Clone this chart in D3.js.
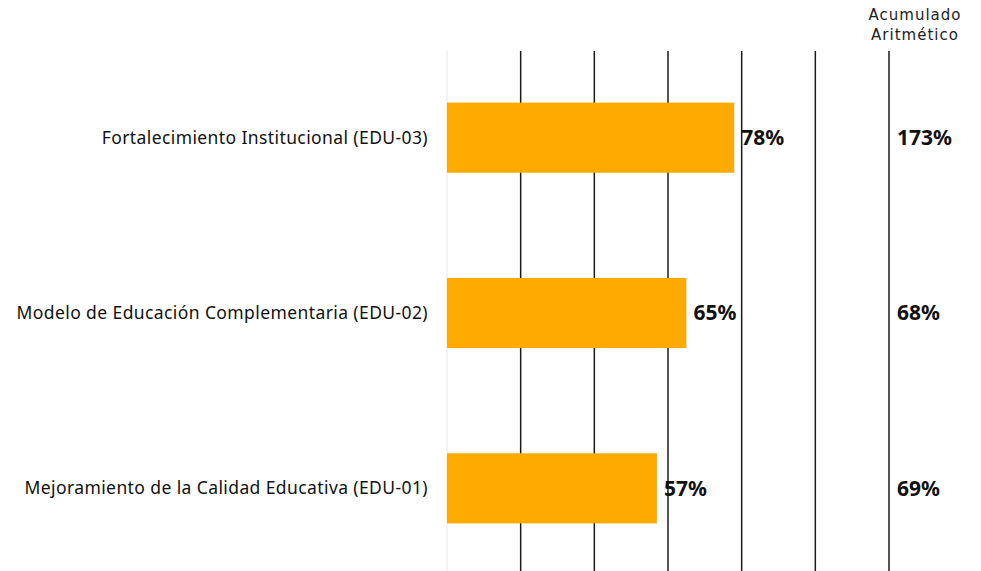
<!DOCTYPE html>
<html>
<head>
<meta charset="utf-8">
<script src="https://cdn.jsdelivr.net/npm/d3@7"></script>
<style>
  body { margin:0; background:#fff; }
  svg { display:block; }
</style>
</head>
<body>
<div id="chart"></div>
<script>
// data
const categories = [
  "Fortalecimiento Institucional (EDU-03)",
  "Modelo de Educación Complementaria (EDU-02)",
  "Mejoramiento de la Calidad Educativa (EDU-01)"
];
const avance     = [78, 65, 57];
const acumulado  = [173, 68, 69];
const gridTicks  = [20, 40, 60, 80, 100, 120];

const width = 981, height = 571;

const svg = d3.select("#chart").append("svg")
  .attr("width", width).attr("height", height);

const x = d3.scaleLinear().domain([0, 120]).range([447, 889]);
const y = d3.scaleBand().domain(categories).range([50, 576]).paddingInner(0.6).paddingOuter(0.3);

// faint zero line
svg.append("line")
  .attr("x1", x(0)).attr("x2", x(0))
  .attr("y1", 51).attr("y2", height)
  .attr("stroke", "#e6e6e6").attr("stroke-width", 1);

// gridlines
svg.append("g").selectAll("line")
  .data(gridTicks).enter().append("line")
  .attr("x1", d => x(d)).attr("x2", d => x(d))
  .attr("y1", 51).attr("y2", height)
  .attr("stroke", "#1a1a1a").attr("stroke-width", 1.5);

// bars
svg.append("g").selectAll("rect")
  .data(categories).enter().append("rect")
  .attr("x", x(0))
  .attr("y", d => y(d))
  .attr("width", (d, i) => x(avance[i]) - x(0))
  .attr("height", y.bandwidth())
  .attr("fill", "#FFAA00");

// category labels
svg.append("g").selectAll("text")
  .data(categories).enter().append("text")
  .attr("x", 428)
  .attr("y", d => y(d) + y.bandwidth() / 2)
  .attr("dy", "0.35em")
  .attr("text-anchor", "end")
  .style("font-family", "'Noto Sans', sans-serif")
  .style("font-size", "17.5px").style("letter-spacing", "0.4px")
  .style("fill", "#111")
  .text(d => d);

// value labels
svg.append("g").selectAll("text")
  .data(categories).enter().append("text")
  .attr("x", (d, i) => x(avance[i]) + 7)
  .attr("y", d => y(d) + y.bandwidth() / 2)
  .attr("dy", "0.35em")
  .style("font-family", "'Noto Sans', sans-serif")
  .style("font-size", "21px").style("font-weight", "bold")
  .style("fill", "#111")
  .text((d, i) => avance[i] + "%");

// accumulated column
svg.append("g").selectAll("text")
  .data(categories).enter().append("text")
  .attr("x", 897)
  .attr("y", d => y(d) + y.bandwidth() / 2)
  .attr("dy", "0.35em")
  .style("font-family", "'Noto Sans', sans-serif")
  .style("font-size", "21px").style("font-weight", "bold")
  .style("fill", "#111")
  .text((d, i) => acumulado[i] + "%");

const head = svg.append("text")
  .attr("text-anchor", "middle")
  .style("font-family", "'DejaVu Sans', sans-serif")
  .style("font-size", "15px").style("letter-spacing", "1px").style("fill", "#222");
head.append("tspan").attr("x", 915).attr("y", 20).text("Acumulado");
head.append("tspan").attr("x", 915).attr("y", 40).text("Aritmético");
</script>
</body>
</html>
